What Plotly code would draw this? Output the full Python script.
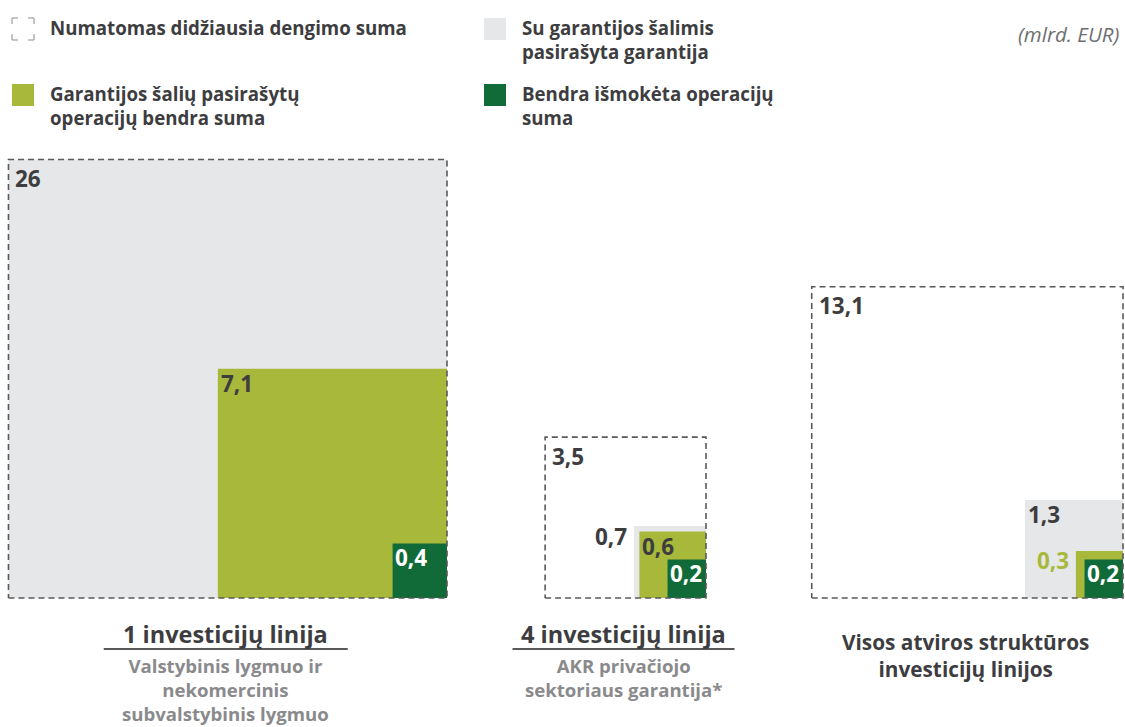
import math
import plotly.graph_objects as go

# ---------------- data ----------------
categories = ["1 investicijų linija", "4 investicijų linija",
              "Visos atviros struktūros<br>investicijų linijos"]
subtitles = ["Valstybinis lygmuo ir<br>nekomercinis<br>subvalstybinis lygmuo",
             "AKR privačiojo<br>sektoriaus garantija*", ""]
underlined = [True, True, False]
expected_max = [26, 3.5, 13.1]        # Numatomas didžiausia dengimo suma
signed_guarantee = [26, 0.7, 1.3]     # Su garantijos šalimis pasirašyta garantija
signed_ops = [7.1, 0.6, 0.3]          # Garantijos šalių pasirašytų operacijų bendra suma
disbursed = [0.4, 0.2, 0.2]           # Bendra išmokėta operacijų suma

legend_labels = ["Numatomas didžiausia dengimo suma",
                 "Su garantijos šalimis<br>pasirašyta garantija",
                 "Garantijos šalių pasirašytų<br>operacijų bendra suma",
                 "Bendra išmokėta operacijų<br>suma"]
unit_label = "(mlrd. EUR)"

# ---------------- layout constants ----------------
W, H = 1125, 727
SCALE = 86.0               # px per sqrt(mlrd. EUR)
BASE_Y = 598               # common baseline
RIGHT_EDGES = [447, 706, 1123]

C_GRAY = "#e6e7e8"
C_LIME = "#a8b83a"
C_DARK = "#116b38"
C_TEXT = "#3d3d3f"
C_SUB = "#8a8a8c"
C_DASH = "#58595b"
FONT = "Open Sans"
VAL_SIZE = 22.5


def fmt(v):
    return f"{v:g}".replace(".", ",")


def side(v):
    return SCALE * math.sqrt(v)


fig = go.Figure()
annotations = []
shapes = []


def square_xy(right, v):
    s = side(v)
    l, t = right - s, BASE_Y - s
    return [l, right, right, l, l], [BASE_Y, BASE_Y, t, t, BASE_Y]


def val_label(x, y, v, color, xanchor="left"):
    annotations.append(dict(x=x, y=y, xref="x", yref="y", text=f"<b>{fmt(v)}</b>",
                            showarrow=False, xanchor=xanchor, yanchor="middle",
                            font=dict(family=FONT, size=VAL_SIZE, color=color)))


for i, cat in enumerate(categories):
    r = RIGHT_EDGES[i]
    layers = [(signed_guarantee[i], C_GRAY), (signed_ops[i], C_LIME), (disbursed[i], C_DARK)]
    for v, col in layers:
        xs, ys = square_xy(r, v)
        fig.add_trace(go.Scatter(x=xs, y=ys, mode="lines", fill="toself",
                                 fillcolor=col, line=dict(width=0, color=col),
                                 hoverinfo="skip", showlegend=False))
    xs, ys = square_xy(r, expected_max[i])
    fig.add_trace(go.Scatter(x=xs, y=ys, mode="lines",
                             line=dict(color=C_DASH, width=1.6, dash="6px,4px"),
                             hoverinfo="skip", showlegend=False))

    # value labels
    outer = side(expected_max[i])
    val_label(r - outer + 5, BASE_Y - outer + 19, expected_max[i], C_TEXT)
    chain = [expected_max[i], signed_guarantee[i], signed_ops[i], disbursed[i]]
    cols = [None, C_GRAY, C_LIME, C_DARK]
    for k in range(1, 4):
        v = chain[k]
        if abs(v - chain[k - 1]) < 1e-9:
            continue
        s = side(v)
        left, top = r - s, BASE_Y - s
        inner = side(chain[k + 1]) if k < 3 else 0
        if k == 3:
            val_label(left, top + 14, v, "white")
        elif inner / s > 0.75:
            col = C_TEXT if cols[k] == C_GRAY else cols[k]
            val_label(left - 5, top + 10, v, col, xanchor="right")
        else:
            val_label(left + 1, top + 15, v, C_TEXT)

    # category labels
    cx = r - outer / 2 - 2
    if underlined[i]:
        annotations.append(dict(x=cx, y=634, xref="x", yref="y", text=f"<b>{cat}</b>",
                                showarrow=False, xanchor="center", yanchor="middle",
                                font=dict(family=FONT, size=23.5, color=C_TEXT)))
        half = 122 if i == 0 else 111
        shapes.append(dict(type="line", xref="x", yref="y", x0=cx - half, x1=cx + half,
                           y0=649, y1=649, line=dict(color=C_DASH, width=2)))
        annotations.append(dict(x=cx, y=651, xref="x", yref="y", text=f"<b>{subtitles[i]}</b>",
                                showarrow=False, xanchor="center", yanchor="top",
                                font=dict(family=FONT, size=18.6, color=C_SUB)))
    else:
        annotations.append(dict(x=cx, y=626, xref="x", yref="y", text=f"<b>{cat}</b>",
                                showarrow=False, xanchor="center", yanchor="top",
                                font=dict(family=FONT, size=20.8, color=C_TEXT)))

# ---------------- legend ----------------
leg_pos = [(12, 18), (484, 18), (12, 84), (484, 84)]
leg_cols = [None, C_GRAY, C_LIME, C_DARK]
for (lx, ly), col, lab in zip(leg_pos, leg_cols, legend_labels):
    if col is None:
        a = 6
        path = (f"M{lx},{ly+a} L{lx},{ly} L{lx+a},{ly} "
                f"M{lx+22-a},{ly} L{lx+22},{ly} L{lx+22},{ly+a} "
                f"M{lx},{ly+22-a} L{lx},{ly+22} L{lx+a},{ly+22} "
                f"M{lx+22-a},{ly+22} L{lx+22},{ly+22} L{lx+22},{ly+22-a}")
        shapes.append(dict(type="path", xref="x", yref="y", path=path,
                           line=dict(color="#8a8a8c", width=1)))
    else:
        shapes.append(dict(type="rect", xref="x", yref="y", x0=lx, x1=lx + 22,
                           y0=ly, y1=ly + 22, fillcolor=col, line=dict(width=0)))
    annotations.append(dict(x=lx + 36, y=ly - 5, xref="x", yref="y", text=f"<b>{lab}</b>",
                            showarrow=False, xanchor="left", yanchor="top", align="left",
                            font=dict(family=FONT, size=18.7, color=C_TEXT)))

annotations.append(dict(x=1122, y=18, xref="x", yref="y", text=f"<i>{unit_label}</i>",
                        showarrow=False, xanchor="right", yanchor="top",
                        font=dict(family=FONT, size=20.5, color="#6d6e70")))

fig.update_layout(
    width=W, height=H, margin=dict(l=0, r=0, t=0, b=0),
    paper_bgcolor="white", plot_bgcolor="white",
    xaxis=dict(range=[0, W], visible=False, fixedrange=True),
    yaxis=dict(range=[H, 0], visible=False, fixedrange=True),
    annotations=annotations, shapes=shapes, showlegend=False,
)
fig.write_html("out.html", config={"displayModeBar": False},
               post_script="document.body.style.margin='0';document.body.style.overflow='hidden';")
